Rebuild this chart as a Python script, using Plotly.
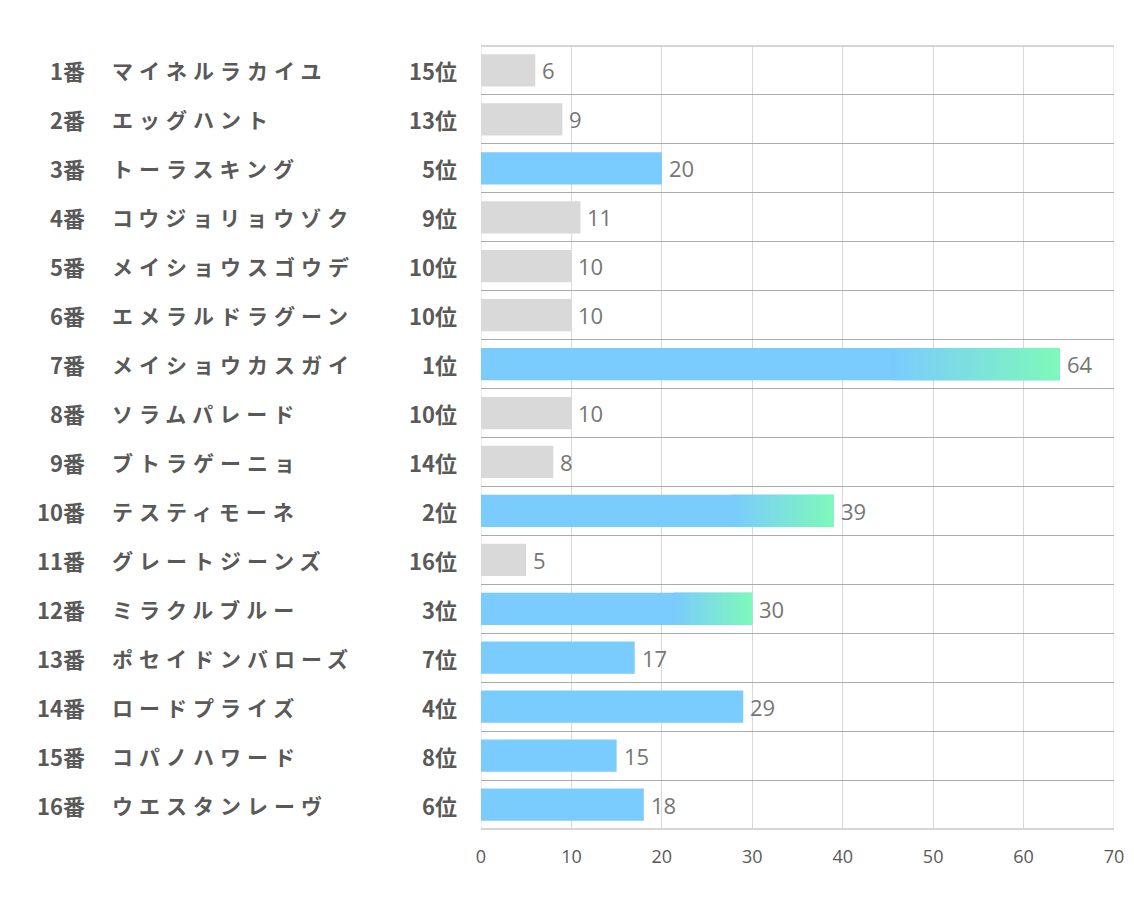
import plotly.graph_objects as go

numbers = ["1番", "2番", "3番", "4番", "5番", "6番", "7番", "8番",
           "9番", "10番", "11番", "12番", "13番", "14番", "15番", "16番"]
names = ["マイネルラカイユ", "エッグハント", "トーラスキング", "コウジョリョウゾク",
         "メイショウスゴウデ", "エメラルドラグーン", "メイショウカスガイ", "ソラムパレード",
         "ブトラゲーニョ", "テスティモーネ", "グレートジーンズ", "ミラクルブルー",
         "ポセイドンバローズ", "ロードプライズ", "コパノハワード", "ウエスタンレーヴ"]
ranks = [15, 13, 5, 9, 10, 10, 1, 10, 14, 2, 16, 3, 7, 4, 8, 6]
values = [6, 9, 20, 11, 10, 10, 64, 10, 8, 39, 5, 30, 17, 29, 15, 18]
x_ticks = [0, 10, 20, 30, 40, 50, 60, 70]

BLUE = (122, 203, 254)
GREEN = (126, 249, 186)
GRAY = "#d9d9d9"
TXT = "#595959"
JP = "Noto Sans CJK JP"
GRAD_START = 0.71
NSEG = 60
WIDTH = 0.66
LS = 6

rows = list(range(len(values)))
grad_rows = [i for i in rows if ranks[i] <= 3]
base_col = ["rgb(%d,%d,%d)" % BLUE if r <= 8 else GRAY for r in ranks]

fig = go.Figure()
fig.add_trace(go.Bar(
    y=rows, x=values, orientation="h", marker=dict(color=base_col, line=dict(width=0)),
    width=WIDTH, hoverinfo="skip", showlegend=False))

for k in range(NSEG):
    t = (k + 0.5) / NSEG
    c = tuple(round(BLUE[j] + (GREEN[j] - BLUE[j]) * t) for j in range(3))
    starts = [values[i] * (GRAD_START + (1 - GRAD_START) * k / NSEG) for i in grad_rows]
    widths = [min(values[i] * (1 - GRAD_START) / NSEG * 1.6,
                  values[i] - s) for i, s in zip(grad_rows, starts)]
    fig.add_trace(go.Bar(
        y=grad_rows, x=widths, base=starts, orientation="h",
        marker=dict(color="rgb(%d,%d,%d)" % c, line=dict(width=0)),
        width=WIDTH, hoverinfo="skip", showlegend=False))

ann = []
for i in rows:
    ann.append(dict(x=0, y=i, xref="paper", yref="y",
                    text="<b>%s</b>" % numbers[i],
                    xanchor="right", xshift=-394, showarrow=False,
                    font=dict(family=JP, size=22, color=TXT)))
    ann.append(dict(x=0, y=i, xref="paper", yref="y",
                    text='<b><span style="letter-spacing:%spx">%s</span></b>' % (LS, names[i]),
                    xanchor="left", xshift=-371, showarrow=False,
                    font=dict(family=JP, size=21, color=TXT)))
    ann.append(dict(x=0, y=i, xref="paper", yref="y",
                    text="<b>%d位</b>" % ranks[i],
                    xanchor="right", xshift=-22, showarrow=False,
                    font=dict(family=JP, size=22, color=TXT)))
    ann.append(dict(x=values[i], y=i, xref="x", yref="y", text=str(values[i]),
                    xanchor="left", xshift=5, showarrow=False,
                    font=dict(family="Open Sans", size=22, color="#767676")))

fig.update_layout(
    width=1134, height=907,
    margin=dict(l=473, r=28, t=38, b=86),
    paper_bgcolor="white", plot_bgcolor="white",
    barmode="overlay", bargap=0.34,
    annotations=ann,
    xaxis=dict(range=[0, 70], tickvals=x_ticks, showgrid=True, gridcolor="#d9d9d9",
               gridwidth=1, zeroline=False, showline=False,
               ticks="outside", ticklen=11, tickcolor="rgba(0,0,0,0)",
               tickfont=dict(family="Open Sans", size=18, color=TXT), fixedrange=True),
    yaxis=dict(range=[len(values) - 0.5, -0.5],
               tickvals=[r - 0.5 for r in rows] + [len(values) - 0.5],
               showticklabels=False, showgrid=True, gridcolor="#ababab", gridwidth=1,
               zeroline=False, showline=False, ticks=""),
)
fig.add_shape(type="line", xref="x", yref="paper", x0=0, x1=0, y0=0, y1=1,
              line=dict(color="#d9d9d9", width=1), layer="below")
fig.add_shape(type="line", xref="x", yref="paper", x0=70, x1=70, y0=0, y1=1,
              line=dict(color="#d9d9d9", width=1), layer="below")
fig.add_shape(type="line", xref="paper", yref="paper", x0=0, x1=1, y0=0, y1=0,
              line=dict(color="#ababab", width=1), layer="below")
fig.add_shape(type="line", xref="paper", yref="paper", x0=0, x1=1, y0=1, y1=1,
              line=dict(color="#ababab", width=1), layer="below")

fig.write_html("out.html")
